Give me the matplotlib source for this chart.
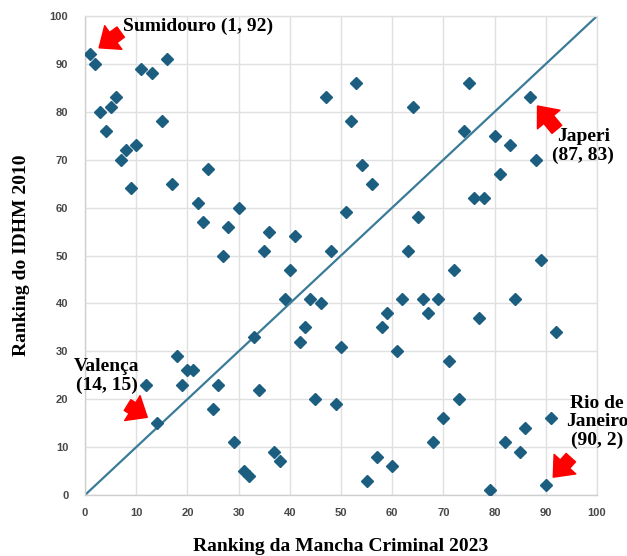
import matplotlib
matplotlib.use("Agg")
import matplotlib.pyplot as plt

# ranking da mancha criminal 2023 (x) vs ranking do IDHM 2010 (y)
mancha = list(range(1, 93))
idhm = [92, 90, 80, 76, 81, 83, 70, 72, 64, 73,
        89, 23, 88, 15, 78, 91, 65, 29, 23, 26,
        26, 61, 57, 68, 18, 23, 50, 56, 11, 60,
        5, 4, 33, 22, 51, 55, 9, 7, 41, 47,
        54, 32, 35, 41, 20, 40, 83, 51, 19, 31,
        59, 78, 86, 69, 3, 65, 8, 35, 38, 6,
        30, 41, 51, 81, 58, 41, 38, 11, 41, 16,
        28, 47, 20, 76, 86, 62, 37, 62, 1, 75,
        67, 11, 73, 41, 9, 14, 83, 70, 49, 2,
        16, 34]

# destaques: (x, y, texto, alinhamento, posição do texto em pontos, cauda da seta em pontos)
destaques = [
    (1, 92, "Sumidouro (1, 92)", "left", (24, 20), (22, 16)),
    (87, 83, "Japeri\n(87, 83)", "center", (38, -35), (19, -23)),
    (14, 15, "Valença\n(14, 15)", "center", (-36, 34), (-21, 13)),
    (90, 2, "Rio de\nJaneiro\n(90, 2)", "center", (37, 46), (18, 20)),
]

fig = plt.figure(figsize=(6.27, 5.56), dpi=100)
ax = fig.add_axes([0.1356, 0.1097, 0.8166, 0.8615])

ax.plot([0, 100], [0, 100], color="#3a7b98", lw=1.6, zorder=2)
ax.plot(mancha, idhm, "D", color="#1c5e80", markersize=6.2, zorder=3, ls="none")

ax.set_xlim(0, 100)
ax.set_ylim(0, 100)
ax.set_xticks(range(0, 101, 10))
ax.set_yticks(range(0, 101, 10))
ax.grid(True, color="#e0e0e0", lw=1)
ax.set_axisbelow(True)
for s in ax.spines.values():
    s.set_color("#e0e0e0")
    s.set_linewidth(1)
ax.spines["left"].set_color("#cfcfcf")
ax.spines["bottom"].set_color("#cfcfcf")
ax.tick_params(length=0, colors="#484848")
ax.tick_params(axis="y", pad=12)
ax.tick_params(axis="x", pad=9)
for lab in ax.get_xticklabels() + ax.get_yticklabels():
    lab.set_fontfamily("Liberation Sans")
    lab.set_fontweight("bold")
    lab.set_fontsize(8)

serif = dict(family="Liberation Serif", weight="bold")
ax.set_xlabel("Ranking da Mancha Criminal 2023", fontsize=14, labelpad=15, **serif)
ax.set_ylabel("Ranking do IDHM 2010", fontsize=14, labelpad=14, **serif)

for x, y, txt, ha, tpos, tail in destaques:
    ax.annotate(txt, xy=(x, y), xytext=tpos, textcoords="offset points",
                ha=ha, va="center", fontsize=14, linespacing=1.1,
                annotation_clip=False, **serif)
    ax.annotate("", xy=(x, y), xytext=tail, textcoords="offset points",
                arrowprops=dict(arrowstyle="simple,head_width=1.5,head_length=0.9,tail_width=0.65",
                                fc="red", ec="red", shrinkA=0, shrinkB=8,
                                mutation_scale=14))

fig.savefig("out.png", dpi=100)
